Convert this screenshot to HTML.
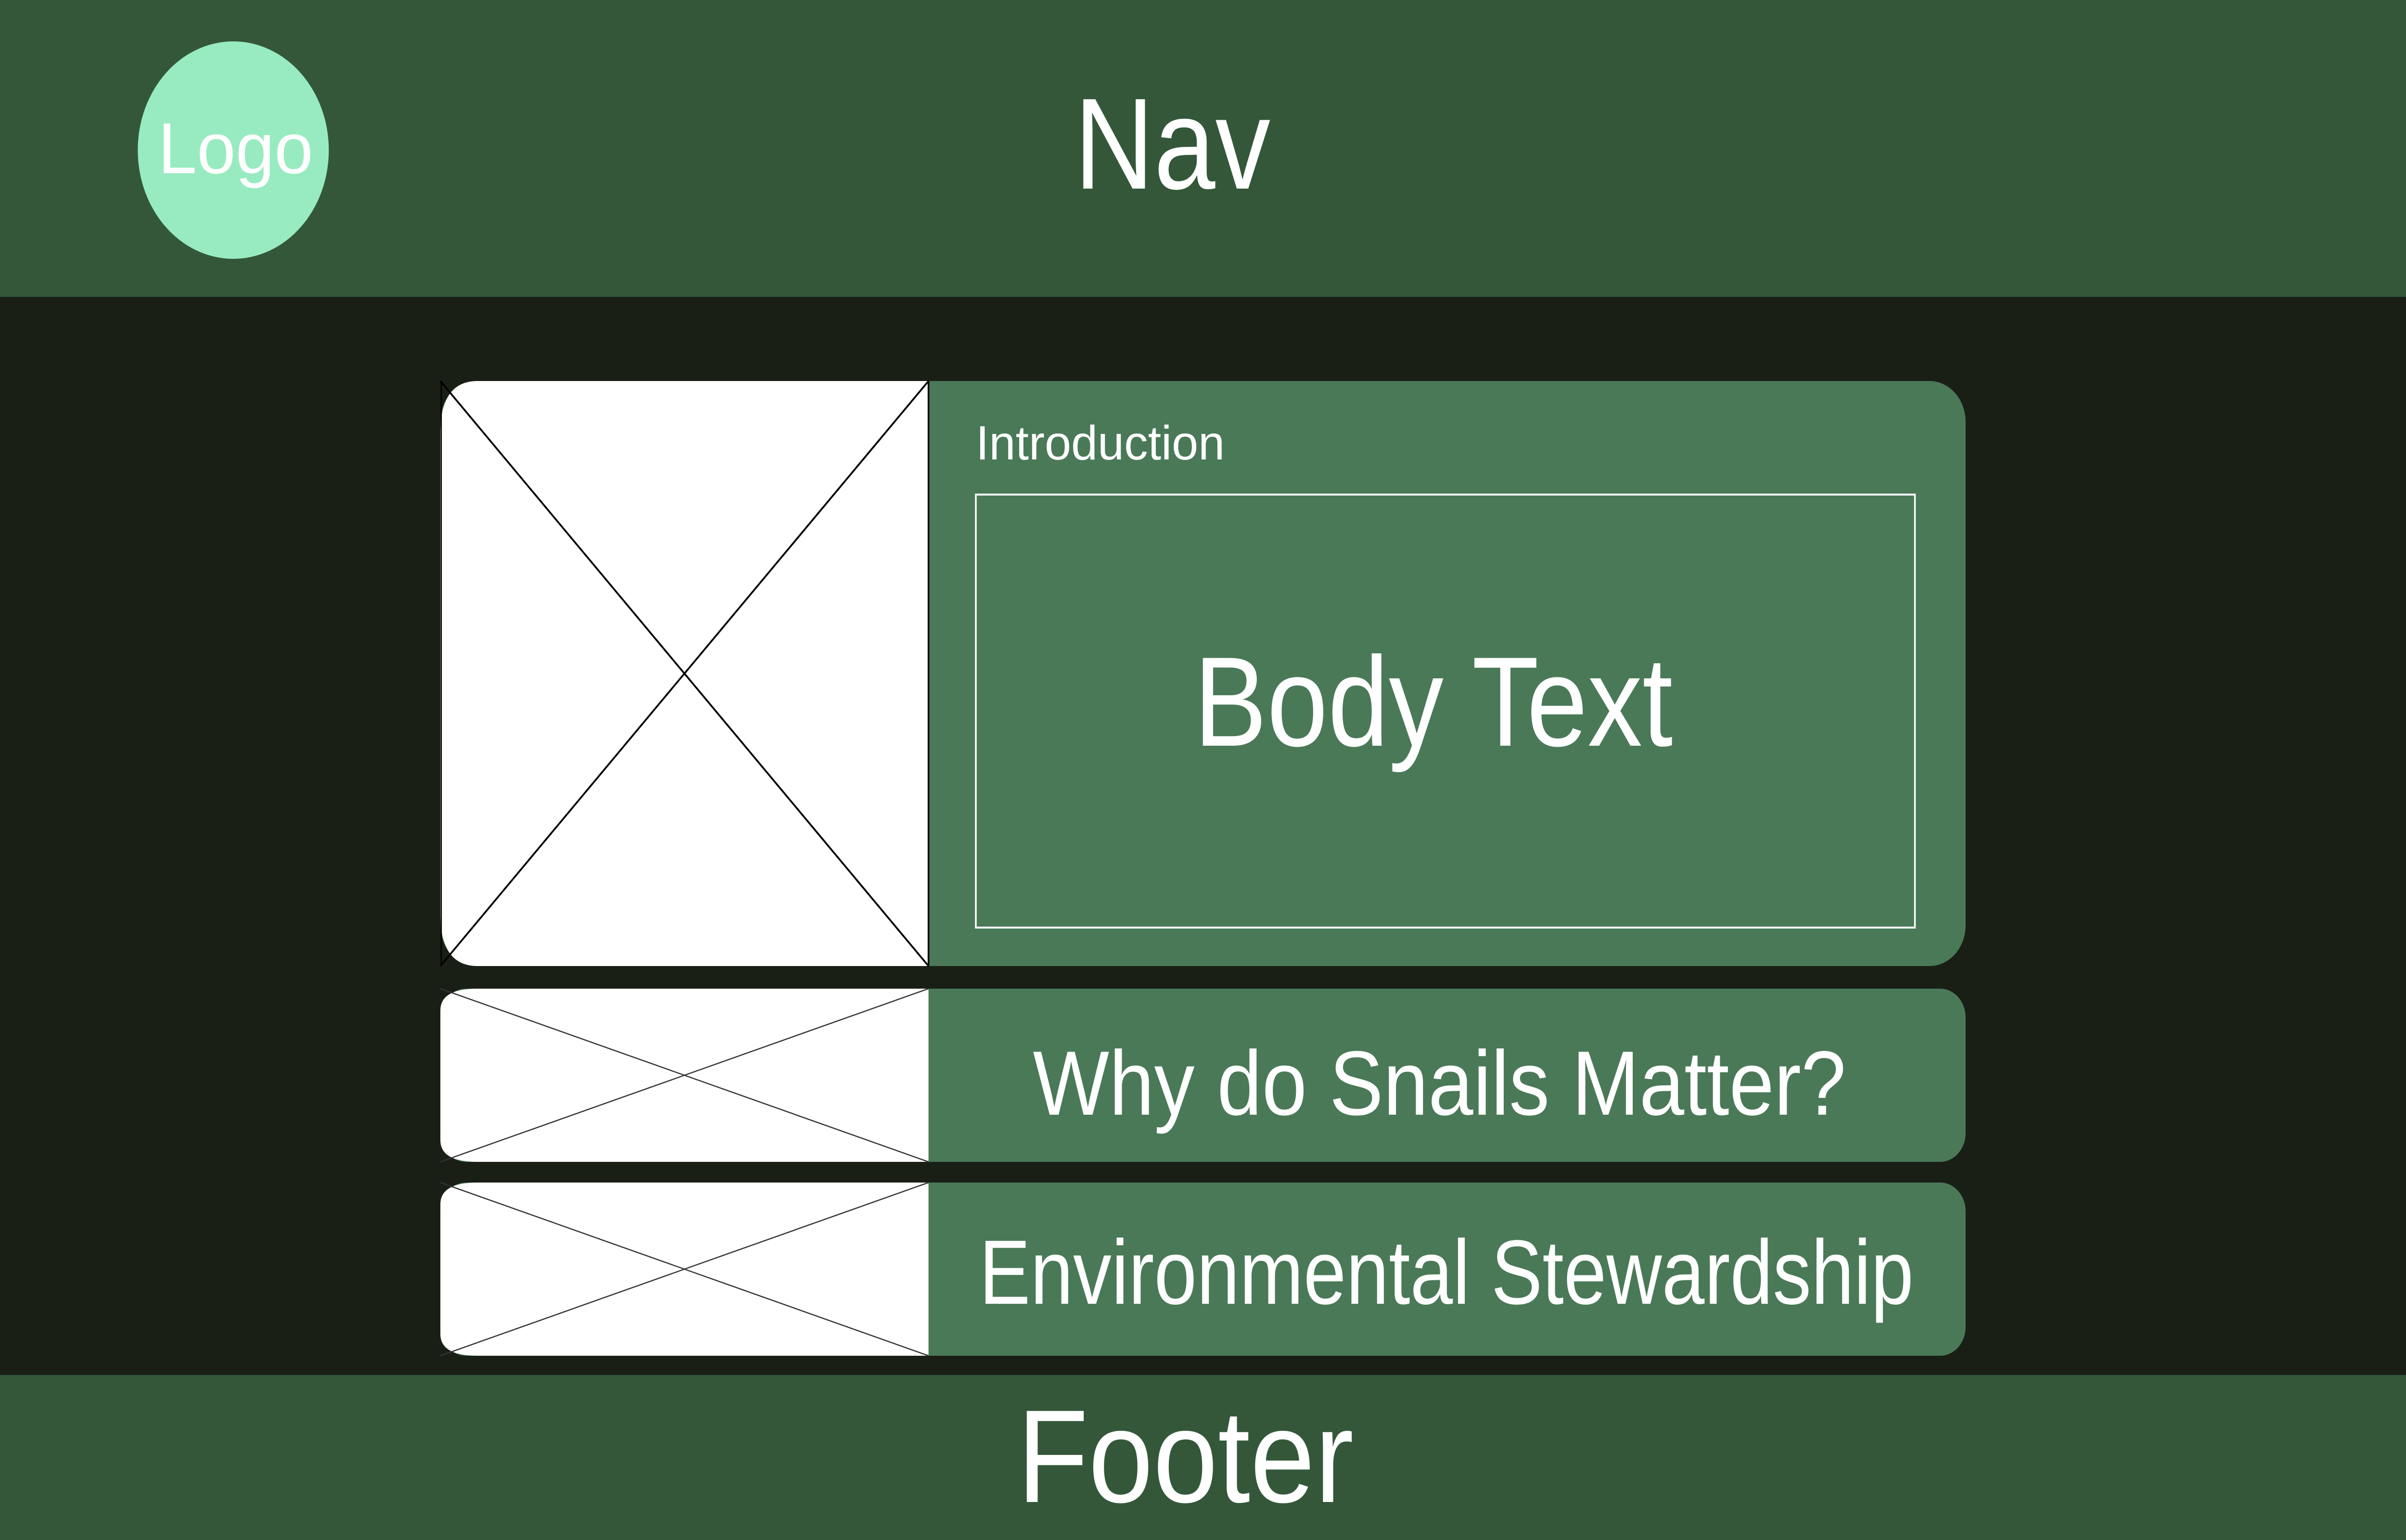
<!DOCTYPE html>
<html><head><meta charset="utf-8"><style>
html,body{margin:0;padding:0;background:#1a1f16;overflow:hidden;width:100%;height:100%;}
svg{display:block;position:absolute;left:0;top:0;width:100vw;height:100vh;}
text{font-family:"Liberation Sans",sans-serif;fill:#fff;}
</style></head><body>
<svg viewBox="0 0 5693 3201" preserveAspectRatio="none" xmlns="http://www.w3.org/2000/svg">
<rect x="0" y="0" width="5693" height="3201" fill="#1a1f16"/>
<rect x="0" y="0" width="5693" height="617" fill="#34573a"/>
<rect x="0" y="2858" width="5693" height="343" fill="#34573a"/>
<circle cx="552" cy="312" r="226" fill="#98ebc0"/>
<text x="374" y="360" font-size="150" textLength="367" lengthAdjust="spacingAndGlyphs">Logo</text>
<text x="2542" y="392" font-size="270" textLength="464" lengthAdjust="spacingAndGlyphs">Nav</text>

<rect x="1042" y="792" width="3609" height="1216" rx="85" fill="#4a7958"/>
<path d="M1130 792 H2197 V2008 H1130 Q1042 2008 1042 1900 V900 Q1042 792 1130 792 Z" fill="#fff"/>
<line x1="1042" y1="792" x2="2197" y2="2008" stroke="#000" stroke-width="4"/>
<line x1="2197" y1="792" x2="1042" y2="2008" stroke="#000" stroke-width="4"/>
<line x1="2197" y1="792" x2="2197" y2="2008" stroke="#000" stroke-width="4"/>
<line x1="1044" y1="792" x2="1044" y2="2008" stroke="#000" stroke-width="3"/>
<text x="2309" y="955" font-size="100" textLength="589" lengthAdjust="spacingAndGlyphs">Introduction</text>
<rect x="2309" y="1028" width="2222" height="900" fill="none" stroke="#fff" stroke-width="4"/>
<text x="2825" y="1550" font-size="265" textLength="1133" lengthAdjust="spacingAndGlyphs">Body Text</text>

<rect x="1042" y="2055" width="3609" height="360" rx="60" fill="#4a7958"/>
<path d="M1130 2055 H2197 V2415 H1130 Q1042 2415 1042 2370 V2100 Q1042 2055 1130 2055 Z" fill="#fff"/>
<line x1="1042" y1="2055" x2="2197" y2="2415" stroke="#333" stroke-width="2.5"/>
<line x1="2197" y1="2055" x2="1042" y2="2415" stroke="#333" stroke-width="2.5"/>
<text x="2444" y="2317" font-size="190" textLength="1924" lengthAdjust="spacingAndGlyphs">Why do Snails Matter?</text>

<rect x="1042" y="2458" width="3609" height="360" rx="60" fill="#4a7958"/>
<path d="M1130 2458 H2197 V2818 H1130 Q1042 2818 1042 2773 V2503 Q1042 2458 1130 2458 Z" fill="#fff"/>
<line x1="1042" y1="2458" x2="2197" y2="2818" stroke="#333" stroke-width="2.5"/>
<line x1="2197" y1="2458" x2="1042" y2="2818" stroke="#333" stroke-width="2.5"/>
<text x="2317" y="2710" font-size="190" textLength="2211" lengthAdjust="spacingAndGlyphs">Environmental Stewardship</text>

<text x="2407" y="3122" font-size="275" textLength="796" lengthAdjust="spacingAndGlyphs">Footer</text>
</svg>
</body></html>
